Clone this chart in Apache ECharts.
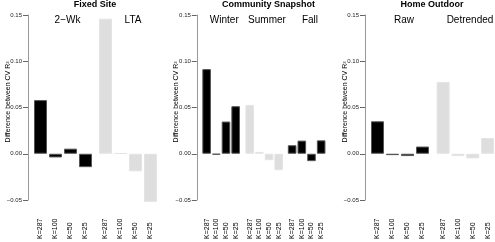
<!DOCTYPE html>
<html><head><meta charset="utf-8">
<script src="https://cdn.jsdelivr.net/npm/echarts@6/dist/echarts.min.js"></script>
<style>html,body{margin:0;padding:0;background:#fff}#c{width:495px;height:242px}</style>
</head><body><div id="c"></div>
<script>
// ---- data ----
const categories = ['K=287', 'K=100', 'K=50', 'K=25'];
const panelTitles = ['Fixed Site', 'Community Snapshot', 'Home Outdoor'];
const yAxisTitle = 'Difference between CV R²';
const yMin = -0.05, yMax = 0.15, yStep = 0.05;

const fixed2Wk      = [0.058, -0.004, 0.0055, -0.0145];
const fixedLTA      = [0.146, 0.0006, -0.019, -0.052];
const commWinter    = [0.0915, -0.001, 0.0348, 0.0514];
const commSummer    = [0.0528, 0.002, -0.007, -0.0178];
const commFall      = [0.0092, 0.0142, -0.008, 0.0145];
const homeRaw       = [0.0351, -0.0015, -0.0025, 0.0078];
const homeDetrended = [0.0777, -0.0025, -0.005, 0.017];

// ---- layout / style ----
const FONT = 'Liberation Sans, Arial, Helvetica, sans-serif';
const DARK = {color: '#000000', borderColor: '#555555', borderWidth: 1};
const LIGHT = {color: '#dedede', borderColor: '#e4e4e4', borderWidth: 1};
const groups = [
  {label: '2−Wk',      values: fixed2Wk,      style: DARK,  left: 33,    width: 60,   bw: 13, axis: true,  labelX: 67.5},
  {label: 'LTA',       values: fixedLTA,      style: LIGHT, left: 98,    width: 60,   bw: 13, axis: false, labelX: 133},
  {label: 'Winter',    values: commWinter,    style: DARK,  left: 201.8, width: 38.7, bw: 8.6, axis: true,  labelX: 224.3},
  {label: 'Summer',    values: commSummer,    style: LIGHT, left: 244.9, width: 38.6, bw: 8.6, axis: false, labelX: 267},
  {label: 'Fall',      values: commFall,      style: DARK,  left: 287.3, width: 38.7, bw: 8.6, axis: false, labelX: 310},
  {label: 'Raw',       values: homeRaw,       style: DARK,  left: 370,   width: 60,   bw: 13, axis: true,  labelX: 404},
  {label: 'Detrended', values: homeDetrended, style: LIGHT, left: 435.7, width: 60,   bw: 13, axis: false, labelX: 470}
];
const titleX = [95, 268.5, 432];
const yTitleX = [8, 176.5, 345];

const TOP = 15, HEIGHT = 187;

const grid = [], xAxis = [], yAxis = [], series = [], graphic = [];
groups.forEach((g, i) => {
  grid.push({left: g.left, top: TOP, width: g.width, height: HEIGHT, containLabel: false});
  xAxis.push({
    type: 'category', gridIndex: i, data: categories,
    axisLine: {show: false, onZero: false}, axisTick: {show: false},
    axisLabel: {rotate: 90, align: 'left', verticalAlign: 'middle', margin: 39, interval: 0,
      fontSize: 7, color: '#000', fontFamily: FONT}
  });
  yAxis.push({
    type: 'value', gridIndex: i, min: yMin, max: yMax, interval: yStep,
    show: g.axis, offset: 5, splitLine: {show: false},
    axisLine: {show: true, onZero: false, lineStyle: {color: '#999999', width: 1}},
    axisTick: {show: true, length: 5, lineStyle: {color: '#666666', width: 1}},
    axisLabel: {margin: 6, fontSize: 6, color: '#222', fontFamily: FONT,
      formatter: v => (v < -1e-9 ? '−' : '') + Math.abs(v).toFixed(2)}
  });
  series.push({
    type: 'bar', xAxisIndex: i, yAxisIndex: i, data: g.values,
    barWidth: g.bw, clip: false, silent: true, animation: false,
    itemStyle: g.style
  });
  graphic.push({type: 'text', x: g.labelX, y: 20, silent: true,
    style: {text: g.label, fill: '#000', font: '10px ' + FONT, align: 'center', verticalAlign: 'middle'}});
});
panelTitles.forEach((t, i) => {
  graphic.push({type: 'text', x: titleX[i], y: 5, silent: true,
    style: {text: t, fill: '#000', font: 'bold 9px ' + FONT, align: 'center', verticalAlign: 'middle'}});
  graphic.push({type: 'text', x: yTitleX[i], y: 102, rotation: Math.PI / 2, silent: true,
    style: {text: yAxisTitle, fill: '#000', font: '7px ' + FONT, align: 'center', verticalAlign: 'middle'}});
});

const chart = echarts.init(document.getElementById('c'), null, {renderer: 'canvas'});
chart.setOption({animation: false, backgroundColor: '#fff', grid, xAxis, yAxis, series, graphic});
</script></body></html>
